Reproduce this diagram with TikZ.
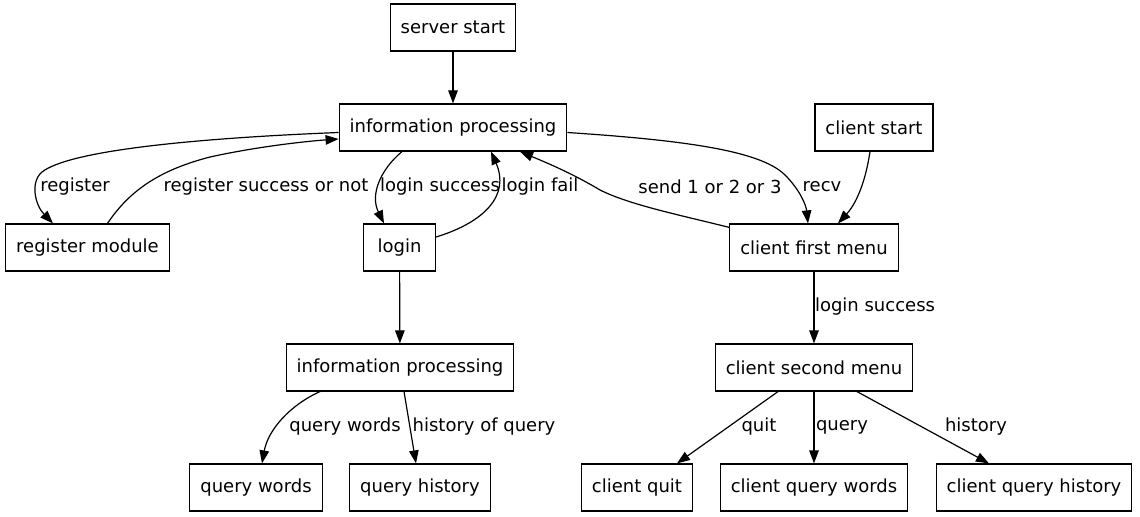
\documentclass[tikz,border=0pt]{standalone}
\usepackage{fontspec}
\setmainfont{DejaVu Sans}
\usetikzlibrary{arrows.meta,calc}
\begin{document}
\begin{tikzpicture}[
    x=1bp,
    y=-1bp,
    font=\fontsize{18bp}{22bp}\selectfont,
    box/.style={draw, line width=1.2bp, minimum height=47bp, minimum width=72bp,
      inner xsep=10.5bp, inner ysep=0pt},
    edge/.style={line width=1.2bp, -{Triangle[length=13bp, width=9.5bp]}},
    lbl/.style={inner sep=0pt}
  ]
    \useasboundingbox (0,0) rectangle (1140,517);
    \node[box] (sstart) at (453,27.5) {server start};
    \node[box] (info) at (453,127.5) {information processing};
    \node[box] (cstart) at (874,127.5) {client start};
    \node[box] (regmod) at (87.5,247.5) {register module};
    \node[box] (login) at (399.5,247.5) {login};
    \node[box] (cfirst) at (814,247.5) {client first menu};
    \node[box] (info2) at (400,367.5) {information processing};
    \node[box] (csecond) at (814,367.5) {client second menu};
    \node[box] (qwords) at (256,487.5) {query words};
    \node[box] (qhist) at (420,487.5) {query history};
    \node[box] (cquit) at (637,487.5) {client quit};
    \node[box] (cqwords) at (814,487.5) {client query words};
    \node[box] (cqhist) at (1034,487.5) {client query history};
    \draw[edge] (sstart) -- (info);
    \draw[edge] ($(info.west)+(0,5)$) .. controls (200,138) and (70,150) .. (42,172)
      .. controls (30,182) and (35,205) .. ($(regmod.north)+(-34.5,0)$);
    \draw[edge] ($(regmod.north)+(20,0)$) .. controls (130,190) and (160,170) .. (210,157)
      .. controls (260,146) and (310,141) .. ($(info.west)+(0,11.5)$);
    \draw[edge] ($(info.south)+(-51,0)$) .. controls (380,170) and (370,195) .. ($(login.north)+(-15.5,0)$);
    \draw[edge] ($(login.east)+(0,-10.5)$) .. controls (485,222) and (510,195) .. ($(info.south)+(38,0)$);
    \draw[edge] ($(info.east)+(0,5)$) .. controls (680,140) and (760,150) .. (785,175)
      .. controls (800,190) and (806,205) .. ($(cfirst.north)+(-6,0)$);
    \draw[edge] ($(cfirst.north west)+(0,4)$) .. controls (680,215) and (630,205) .. (600,190)
      .. controls (570,172) and (540,160) .. ($(info.south)+(67,0)$);
    \draw[edge] ($(cstart.south)+(-4,0)$) .. controls (865,185) and (855,205) .. ($(cfirst.north)+(24,0)$);
    \draw[edge] (login) -- (info2);
    \draw[edge] (cfirst) -- (csecond);
    \draw[edge] ($(info2.south)+(-80,0)$) .. controls (290,405) and (268,430) .. ($(qwords.north)+(6,0)$);
    \draw[edge] ($(info2.south)+(4,0)$) -- ($(qhist.north)+(-4,0)$);
    \draw[edge] ($(csecond.south)+(-36,0)$) -- ($(cquit.north)+(40,0)$);
    \draw[edge] (csecond) -- (cqwords);
    \draw[edge] ($(csecond.south)+(43,0)$) -- ($(cqhist.north)+(-45,0)$);
    \node[lbl] (lreg) at (75,187) {register};
    \node[lbl] (lregok) at (266,187) {register success or not};
    \node[lbl] (lloginok) at (440,187) {login success};
    \node[lbl] (lloginfail) at (540,187) {login fail};
    \node[lbl] (lsend) at (710,187) {send 1 or 2 or 3};
    \node[lbl] (lrecv) at (822,187) {recv};
    \node[lbl] (lloginok2) at (875,307) {login success};
    \node[lbl] (lqwords) at (345,427) {query words};
    \node[lbl] (lqhist) at (484,427) {history of query};
    \node[lbl] (lquit) at (759,427) {quit};
    \node[lbl] (lquery) at (842,427) {query};
    \node[lbl] (lhist) at (976,427) {history};
  \end{tikzpicture}
\end{document}
